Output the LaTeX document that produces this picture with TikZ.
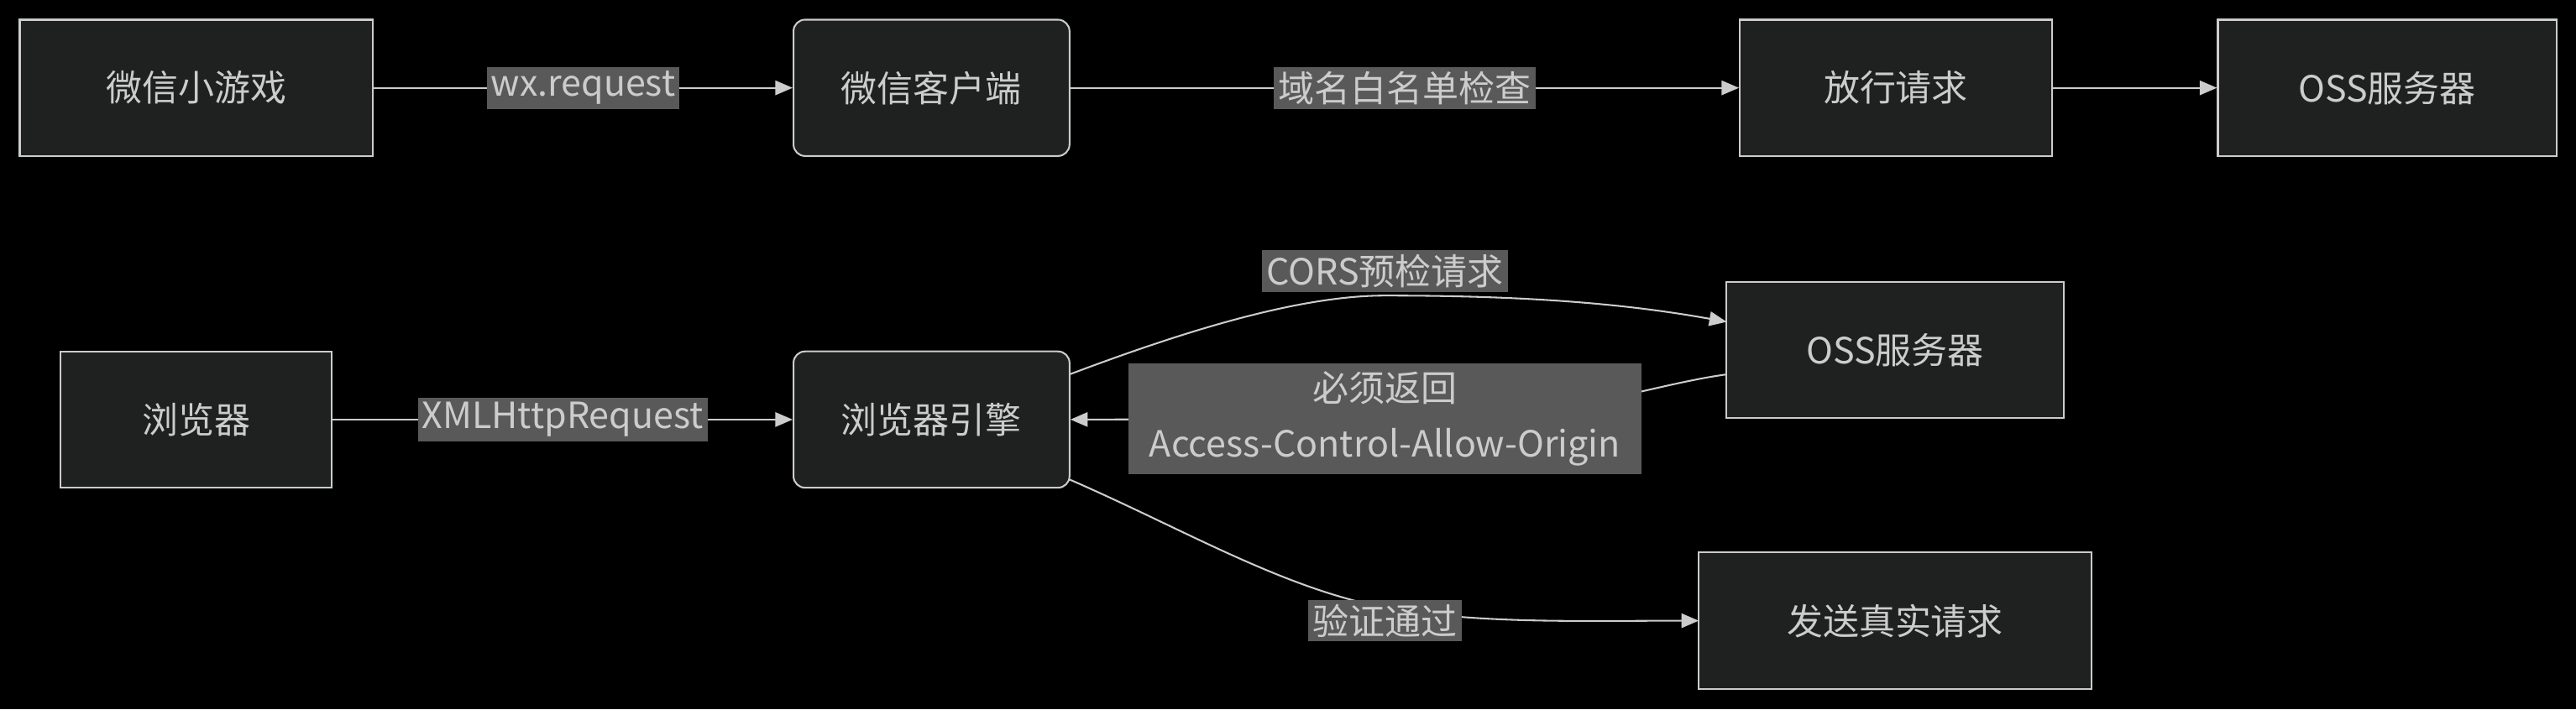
\documentclass[tikz,border=0pt]{standalone}
\usepackage{fontspec}
\setmainfont{Noto Sans CJK SC}
\usetikzlibrary{arrows.meta}
\definecolor{nodefill}{HTML}{1F2020}
\definecolor{edge}{HTML}{CCCCCC}
\definecolor{lab}{HTML}{595959}
\begin{document}
\begin{tikzpicture}[x=0.02cm,y=-0.02cm,
  every node/.style={font=\fontsize{12.5}{19}\selectfont, text=edge},
  box/.style={draw=edge, line width=0.6pt, fill=nodefill, minimum height=83*0.02cm, inner sep=0pt},
  rbox/.style={box, rounded corners=4pt},
  lbl/.style={fill=lab, inner sep=1.5pt, align=center},
  arr/.style={draw=edge, line width=0.6pt, -{Triangle[length=6pt,width=5pt]}}]
\fill[black] (0,0) rectangle (1568,432);
\useasboundingbox (0,0) rectangle (1568,432);
\node[box, minimum width=215*0.02cm] (mg) at (119.5,53.5) {微信小游戏};
\node[rbox, minimum width=168*0.02cm] (wc) at (567,53.5) {微信客户端};
\node[box, minimum width=190*0.02cm] (pass) at (1154,53.5) {放行请求};
\node[box, minimum width=206*0.02cm] (oss1) at (1453,53.5) {OSS服务器};
\node[box, minimum width=165*0.02cm] (br) at (119.5,255.5) {浏览器};
\node[rbox, minimum width=168*0.02cm] (eng) at (567,255.5) {浏览器引擎};
\node[box, minimum width=205*0.02cm] (oss2) at (1153.5,213) {OSS服务器};
\node[box, minimum width=239*0.02cm] (send) at (1153.5,378) {发送真实请求};

\draw[arr] (mg) -- node[lbl]{wx.request} (wc);
\draw[arr] (wc) -- node[lbl]{域名白名单检查} (pass);
\draw[arr] (pass) -- (oss1);
\draw[arr] (br) -- node[lbl]{XMLHttpRequest} (eng);

\coordinate (a1) at (651,228);
\coordinate (a2) at (1051,196);
\draw[arr] (a1) .. controls (720,202) and (790,180) .. (843,180) .. controls (930,180) and (990,185) .. (a2);
\node[lbl] at (843,165) {CORS预检请求};

\coordinate (b1) at (1051,228);
\draw[arr] (b1) .. controls (1000,235) and (960,255) .. (843,255) -- (eng.east);
\node[lbl, text width=302*0.02cm, inner sep=3pt] at (843,255) {必须返回\\Access-Control-Allow-Origin};

\coordinate (c1) at (651,292);
\coordinate (c2) at (1034,378);
\draw[arr] (c1) .. controls (720,322) and (780,358) .. (843,370) .. controls (900,380) and (960,378) .. (c2);
\node[lbl] at (843,378) {验证通过};
\end{tikzpicture}
\end{document}
